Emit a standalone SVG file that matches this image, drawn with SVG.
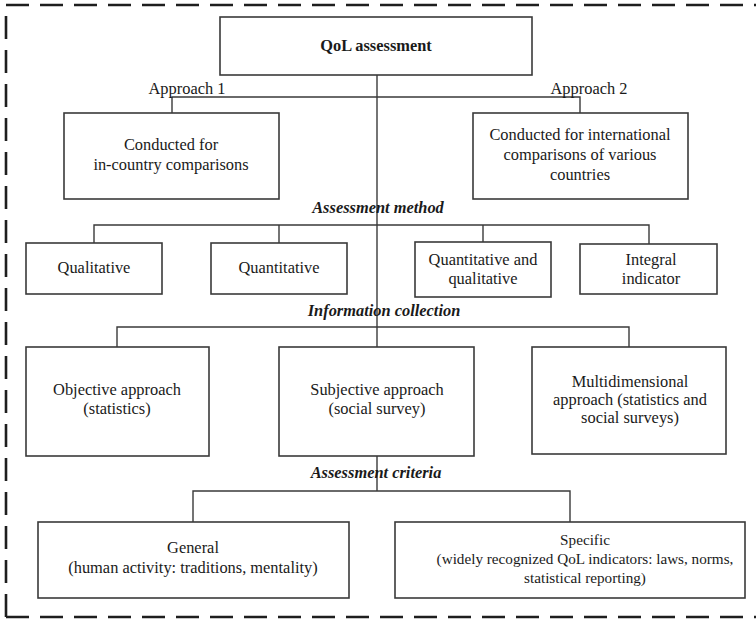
<svg xmlns="http://www.w3.org/2000/svg" width="756" height="620" viewBox="0 0 756 620">
<style>
.box{fill:#fff;stroke:#3a3a3a;stroke-width:1.6}
.ln{fill:none;stroke:#3a3a3a;stroke-width:1.4}
.border{fill:none;stroke:#1e1e1e;stroke-width:2.6;stroke-dasharray:23 11}
text{font-size:16.4px;fill:#1a1a1a;text-anchor:middle}
.b{font-weight:bold}
.bi{font-weight:bold;font-style:italic}
.sm{font-size:15.2px}
</style>
<rect width="756" height="620" fill="#fff"/>
<g id="border">
<path class="border" d="M6,617 L6,5 L760,5"/>
<path class="border" d="M6,617 L760,617"/>
</g>
<g id="connectors">
<path class="ln" d="M377,75 V347"/>
<path class="ln" d="M377,456 V491"/>
<path class="ln" d="M172,113 V97 H580 V113"/>
<path class="ln" d="M94,243 V225 H649 V244"/>
<path class="ln" d="M279,225 V243"/>
<path class="ln" d="M483,225 V242"/>
<path class="ln" d="M117,347 V327 H629 V347"/>
<path class="ln" d="M193,522 V491 H570 V522"/>
</g>
<g font-family="Liberation Serif, Tinos, Times New Roman, DejaVu Serif, serif">
<g id="labels">
<text x="187" y="94">Approach 1</text>
<text x="589" y="94">Approach 2</text>
<text class="bi" x="378" y="213">Assessment method</text>
<text class="bi" x="384" y="316">Information collection</text>
<text class="bi" x="376" y="478">Assessment criteria</text>
</g>
<g id="qol">
<rect class="box" x="220" y="17" width="312" height="58"/>
<text class="b" x="376" y="51">QoL assessment</text>
</g>
<g id="in-country">
<rect class="box" x="64" y="113" width="215" height="86"/>
<text x="171" y="150">Conducted for</text>
<text x="171" y="170">in-country comparisons</text>
</g>
<g id="international">
<rect class="box" x="473" y="113" width="215" height="86"/>
<text x="580" y="140">Conducted for international</text>
<text x="580" y="160">comparisons of various</text>
<text x="580" y="180">countries</text>
</g>
<g id="qualitative">
<rect class="box" x="26" y="243" width="136" height="51"/>
<text x="94" y="273">Qualitative</text>
</g>
<g id="quantitative">
<rect class="box" x="211" y="243" width="136" height="51"/>
<text x="279" y="273">Quantitative</text>
</g>
<g id="quant-qual">
<rect class="box" x="415" y="242" width="136" height="55"/>
<text x="483" y="265">Quantitative and</text>
<text x="483" y="284">qualitative</text>
</g>
<g id="integral">
<rect class="box" x="580" y="244" width="137" height="50"/>
<text x="651" y="265">Integral</text>
<text x="651" y="284">indicator</text>
</g>
<g id="objective">
<rect class="box" x="26" y="347" width="183" height="109"/>
<text x="117" y="395">Objective approach</text>
<text x="117" y="414">(statistics)</text>
</g>
<g id="subjective">
<rect class="box" x="279" y="347" width="195" height="109"/>
<text x="377" y="395">Subjective approach</text>
<text x="377" y="414">(social survey)</text>
</g>
<g id="multidimensional">
<rect class="box" x="532" y="347" width="194" height="107"/>
<text x="630" y="387">Multidimensional</text>
<text x="630" y="405">approach (statistics and</text>
<text x="630" y="423">social surveys)</text>
</g>
<g id="general">
<rect class="box" x="38" y="522" width="311" height="76"/>
<text x="193" y="553">General</text>
<text x="193" y="573">(human activity: traditions, mentality)</text>
</g>
<g id="specific">
<rect class="box" x="395" y="522" width="350" height="76"/>
<text class="sm" x="585" y="545">Specific</text>
<text class="sm" x="585" y="564">(widely recognized QoL indicators: laws, norms,</text>
<text class="sm" x="585" y="583">statistical reporting)</text>
</g>
</g>
</svg>
